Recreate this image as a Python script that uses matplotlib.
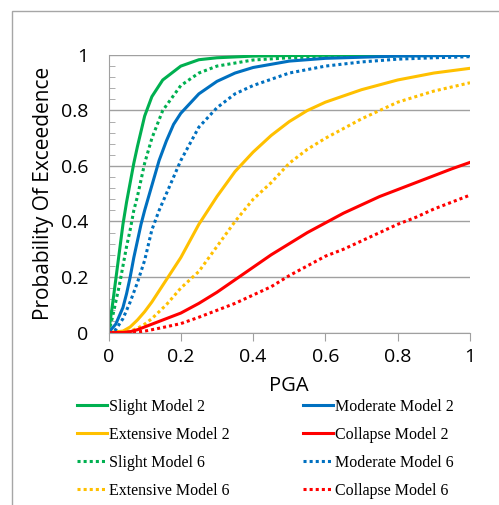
import matplotlib.pyplot as plt
from matplotlib.patches import Rectangle

# values (PGA -> probability of exceedence)
slight2_x = [0, 0.01, 0.02, 0.03, 0.04, 0.05, 0.06, 0.07, 0.08, 0.1, 0.12, 0.15, 0.2, 0.25, 0.3, 0.4, 0.5, 0.6, 0.8, 1.0]
slight2_y = [0, 0.09, 0.19, 0.29, 0.39, 0.47, 0.54, 0.61, 0.67, 0.78, 0.85, 0.91, 0.96, 0.983, 0.99, 0.996, 0.998, 0.999, 1.0, 1.0]

slight6_x = [0, 0.01, 0.02, 0.03, 0.04, 0.05, 0.06, 0.07, 0.08, 0.1, 0.12, 0.15, 0.2, 0.25, 0.3, 0.4, 0.5, 0.6, 0.8, 1.0]
slight6_y = [0, 0.05, 0.11, 0.17, 0.24, 0.31, 0.37, 0.44, 0.49, 0.61, 0.70, 0.80, 0.89, 0.935, 0.96, 0.982, 0.99, 0.994, 0.997, 0.999]

moderate2_x = [0, 0.02, 0.04, 0.05, 0.06, 0.07, 0.08, 0.09, 0.1, 0.12, 0.14, 0.16, 0.18, 0.2, 0.25, 0.3, 0.35, 0.4, 0.5, 0.6, 0.8, 1.0]
moderate2_y = [0, 0.03, 0.09, 0.14, 0.2, 0.27, 0.33, 0.39, 0.44, 0.53, 0.62, 0.69, 0.75, 0.79, 0.86, 0.905, 0.935, 0.955, 0.978, 0.988, 0.996, 0.999]

moderate6_x = [0, 0.02, 0.04, 0.06, 0.08, 0.1, 0.12, 0.14, 0.16, 0.18, 0.2, 0.25, 0.3, 0.35, 0.4, 0.5, 0.6, 0.7, 0.8, 0.9, 1.0]
moderate6_y = [0, 0.01, 0.05, 0.11, 0.18, 0.26, 0.37, 0.44, 0.50, 0.56, 0.62, 0.74, 0.81, 0.86, 0.89, 0.935, 0.96, 0.975, 0.985, 0.99, 0.994]

extensive2_x = [0, 0.04, 0.06, 0.08, 0.1, 0.12, 0.14, 0.16, 0.18, 0.2, 0.25, 0.3, 0.35, 0.4, 0.45, 0.5, 0.55, 0.6, 0.7, 0.8, 0.9, 1.0]
extensive2_y = [0, 0.005, 0.02, 0.045, 0.075, 0.11, 0.15, 0.19, 0.23, 0.27, 0.39, 0.49, 0.58, 0.65, 0.71, 0.76, 0.80, 0.83, 0.875, 0.91, 0.935, 0.952]

extensive6_x = [0, 0.06, 0.08, 0.1, 0.12, 0.14, 0.16, 0.18, 0.2, 0.25, 0.3, 0.35, 0.4, 0.45, 0.5, 0.55, 0.6, 0.7, 0.8, 0.9, 1.0]
extensive6_y = [0, 0.005, 0.015, 0.03, 0.05, 0.075, 0.10, 0.13, 0.16, 0.22, 0.31, 0.40, 0.48, 0.54, 0.61, 0.66, 0.70, 0.77, 0.83, 0.87, 0.90]

collapse2_x = [0, 0.04, 0.06, 0.08, 0.1, 0.12, 0.15, 0.2, 0.25, 0.3, 0.35, 0.4, 0.45, 0.5, 0.55, 0.6, 0.65, 0.7, 0.75, 0.8, 0.85, 0.9, 0.95, 1.0]
collapse2_y = [0, 0, 0.003, 0.01, 0.02, 0.03, 0.045, 0.07, 0.105, 0.145, 0.19, 0.235, 0.28, 0.32, 0.36, 0.395, 0.43, 0.46, 0.49, 0.515, 0.54, 0.565, 0.59, 0.613]

collapse6_x = [0, 0.06, 0.08, 0.1, 0.12, 0.15, 0.2, 0.25, 0.3, 0.35, 0.4, 0.45, 0.5, 0.55, 0.6, 0.65, 0.7, 0.75, 0.8, 0.85, 0.9, 0.95, 1.0]
collapse6_y = [0, 0, 0.002, 0.005, 0.01, 0.018, 0.032, 0.055, 0.08, 0.105, 0.135, 0.165, 0.205, 0.24, 0.275, 0.30, 0.33, 0.36, 0.39, 0.415, 0.445, 0.47, 0.495]

green, blue, yellow, red = '#00B050', '#0070C0', '#FFC000', '#FF0000'
dot = (0, (1, 1))

fig = plt.figure(figsize=(4.99, 5.05), dpi=100)
ax = fig.add_axes([108.5/499, 172.5/505, 361.5/499, 277.5/505])

# outer chart frame (only left and top edges visible)
fig.patches.append(Rectangle((12/499, -0.1), 1.2, 1.1 - 11/505, transform=fig.transFigure,
                             fill=False, edgecolor='#a6a6a6', lw=1))

lines = {}
lines['Slight Model 2'] = ax.plot(slight2_x, slight2_y, color=green, lw=2.2)[0]
lines['Extensive Model 2'] = ax.plot(extensive2_x, extensive2_y, color=yellow, lw=2.2)[0]
lines['Slight Model 6'] = ax.plot(slight6_x, slight6_y, color=green, lw=2.2, ls=dot)[0]
lines['Extensive Model 6'] = ax.plot(extensive6_x, extensive6_y, color=yellow, lw=2.2, ls=dot)[0]
lines['Moderate Model 2'] = ax.plot(moderate2_x, moderate2_y, color=blue, lw=2.2)[0]
lines['Collapse Model 2'] = ax.plot(collapse2_x, collapse2_y, color=red, lw=2.2)[0]
lines['Moderate Model 6'] = ax.plot(moderate6_x, moderate6_y, color=blue, lw=2.2, ls=dot)[0]
lines['Collapse Model 6'] = ax.plot(collapse6_x, collapse6_y, color=red, lw=2.2, ls=dot)[0]

ax.set_xlim(0, 1)
ax.set_ylim(0, 1)
ax.set_xticks([0, 0.2, 0.4, 0.6, 0.8, 1])
ax.set_xticklabels(['0', '0.2', '0.4', '0.6', '0.8', '1'])
ax.set_yticks([0, 0.2, 0.4, 0.6, 0.8, 1])
ax.set_yticklabels(['0', '0.2', '0.4', '0.6', '0.8', '1'])
ax.set_yticks([i * 0.04 for i in range(26)], minor=True)

for s in ['top', 'right']:
    ax.spines[s].set_visible(False)
for s in ['left', 'bottom']:
    ax.spines[s].set_color('#a0a0a0')
ax.yaxis.grid(True, color='#a0a0a0', lw=1)
ax.set_axisbelow(True)

ax.tick_params(axis='y', which='major', length=0, pad=14.5, labelsize=14)
ax.tick_params(axis='y', which='minor', direction='in', length=4, color='#a0a0a0')
ax.tick_params(axis='x', which='major', length=6, color='#a0a0a0', pad=5, labelsize=14)
for lab in ax.get_xticklabels() + ax.get_yticklabels():
    lab.set_fontfamily('Open Sans')

ax.set_xlabel('PGA', fontsize=14.5, family='Open Sans')
ax.set_ylabel('Probability Of Exceedence', fontsize=15, family='Open Sans')
ax.xaxis.set_label_coords(0.5, -0.155)
ax.yaxis.set_label_coords(-0.15, 0.5)

fig.legend(list(lines.values()), list(lines.keys()), ncol=2, loc='upper left',
           bbox_to_anchor=(77/499, 1 - 399/505), frameon=False,
           prop={'family': 'Liberation Serif', 'size': 11.5},
           handlelength=1.9, handletextpad=0.1, labelspacing=0.75,
           columnspacing=4.6, borderpad=0, borderaxespad=0)

fig.savefig('out.png', dpi=100)
